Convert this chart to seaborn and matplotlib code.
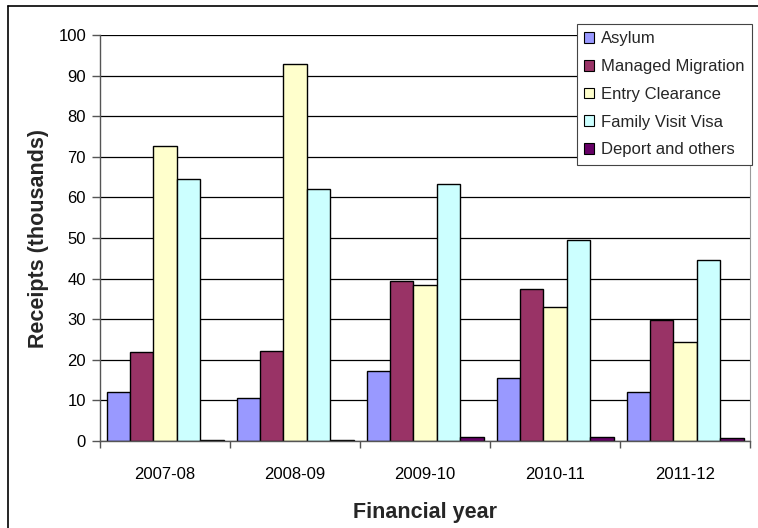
import numpy as np
import pandas as pd
import matplotlib
matplotlib.use("Agg")
import matplotlib.pyplot as plt
from matplotlib.patches import Rectangle
import seaborn as sns

years = ["2007-08", "2008-09", "2009-10", "2010-11", "2011-12"]
asylum = [12.1, 10.6, 17.2, 15.5, 12.1]
managed_migration = [21.9, 22.2, 39.4, 37.4, 29.8]
entry_clearance = [72.6, 92.8, 38.4, 33.0, 24.4]
family_visit_visa = [64.5, 62.1, 63.4, 49.4, 44.7]
deport_and_others = [0.3, 0.3, 1.0, 1.0, 0.7]

series_names = ["Asylum", "Managed Migration", "Entry Clearance",
                "Family Visit Visa", "Deport and others"]
series_values = [asylum, managed_migration, entry_clearance,
                 family_visit_visa, deport_and_others]
colors = ["#9999FF", "#993366", "#FFFFCC", "#CCFFFF", "#660066"]

df = pd.DataFrame([
    {"year": y, "series": name, "value": v}
    for name, vals in zip(series_names, series_values)
    for y, v in zip(years, vals)
])

sns.set_theme(style="white")
plt.rcParams["font.family"] = ["Liberation Sans", "DejaVu Sans"]

fig = plt.figure(figsize=(7.58, 5.28), dpi=100)
W, H = 758, 528
ax = fig.add_axes([100 / W, 1 - 441 / H, 650 / W, 406 / H])

sns.barplot(data=df, x="year", y="value", hue="series", order=years,
            hue_order=series_names, palette=colors, width=0.9, gap=0,
            edgecolor="black", linewidth=1.0, saturation=1, ax=ax,
            errorbar=None)

ax.set_ylim(0, 100)
ax.set_xlim(-0.5, len(years) - 0.5)
ax.set_yticks(np.arange(0, 101, 10))
ax.yaxis.grid(True, color="black", linewidth=0.9)
ax.set_axisbelow(True)

ax.spines["top"].set_visible(False)
ax.spines["right"].set_color("#9a9a9a")
ax.spines["right"].set_linewidth(0.8)
for side in ["left", "bottom"]:
    ax.spines[side].set_color("#555555")
    ax.spines[side].set_linewidth(1.0)

ax.tick_params(axis="y", which="major", left=True, length=6, width=1,
               color="#555555", labelsize=12, labelcolor="black", pad=4)
ax.tick_params(axis="x", which="major", bottom=False, labelsize=12,
               labelcolor="black", pad=13)
ax.set_xticks(np.arange(-0.5, len(years)), minor=True)
ax.tick_params(axis="x", which="minor", bottom=True, length=5, width=1,
               color="#555555")

ax.set_xlabel("Financial year", fontsize=15.5, fontweight="bold", labelpad=14)
ax.set_ylabel("Receipts (thousands)", fontsize=15.5, fontweight="bold",
              labelpad=7)

ax.get_legend().remove()
handles = [Rectangle((0, 0), 1, 1, facecolor=c, edgecolor="black",
                     linewidth=0.8) for c in colors]
leg = fig.legend(handles, series_names, loc="upper right",
                 bbox_to_anchor=(752 / W, 1 - 24 / H), fontsize=12,
                 frameon=True, fancybox=False, framealpha=1,
                 edgecolor="#444444", handlelength=0.6, handleheight=0.6,
                 handletextpad=0.4, labelspacing=0.76, borderpad=0.45,
                 borderaxespad=0)
leg.get_frame().set_linewidth(0.8)

# Frame around the chart area
fig.add_artist(plt.Line2D([8 / W, 8 / W], [0, 1 - 6 / H], color="black",
                          linewidth=1.2, transform=fig.transFigure))
fig.add_artist(plt.Line2D([8 / W, 1], [1 - 6 / H, 1 - 6 / H], color="black",
                          linewidth=1.2, transform=fig.transFigure))

fig.savefig("out.png", dpi=100)
